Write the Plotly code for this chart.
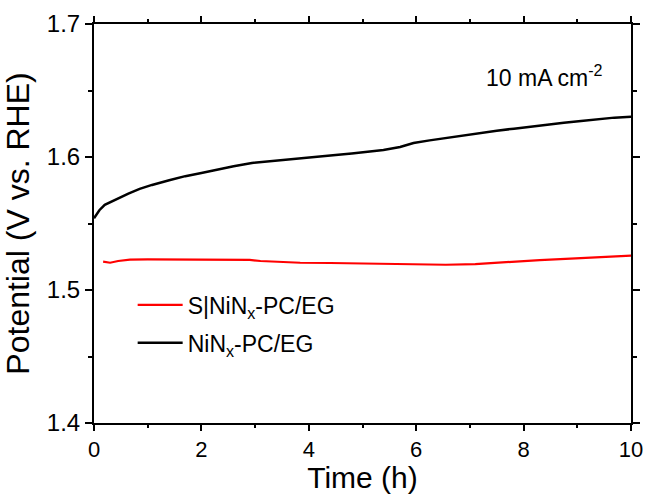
import plotly.graph_objects as go

# NiNx-PC/EG (black)
t_black = [0.0, 0.05, 0.1, 0.2, 0.3, 0.45, 0.64, 0.85, 1.08, 1.4, 1.7, 2.0, 2.31, 2.6, 2.94, 3.25, 3.56, 3.9, 4.18, 4.5, 4.8, 5.1, 5.39, 5.7, 5.95, 6.25, 6.58, 6.9, 7.2, 7.5, 7.82, 8.15, 8.45, 8.75, 9.07, 9.4, 9.69, 10.0]
v_black = [1.5540, 1.5575, 1.5600, 1.5640, 1.5660, 1.5685, 1.5725, 1.5760, 1.5790, 1.5825, 1.5856, 1.5880, 1.5907, 1.5930, 1.5955, 1.5968, 1.5980, 1.5995, 1.6007, 1.6015, 1.6027, 1.6038, 1.6052, 1.6075, 1.6105, 1.6125, 1.6145, 1.6163, 1.6183, 1.6198, 1.6213, 1.6230, 1.6246, 1.6258, 1.6270, 1.6285, 1.6296, 1.6303]

# S|NiNx-PC/EG (red)
t_red = [0.17, 0.3, 0.45, 0.67, 1.0, 1.5, 2.0, 2.5, 2.9, 3.1, 3.5, 3.84, 4.4, 4.96, 5.5, 6.0, 6.55, 7.1, 7.57, 8.0, 8.3, 8.97, 9.5, 10.0]
v_red = [1.5213, 1.5205, 1.5218, 1.5228, 1.5230, 1.5230, 1.5230, 1.5229, 1.5226, 1.5218, 1.5211, 1.5205, 1.5203, 1.5200, 1.5198, 1.5195, 1.5190, 1.5195, 1.5208, 1.5218, 1.5225, 1.5238, 1.5248, 1.5258]

x_ticks = [0, 2, 4, 6, 8, 10]
y_ticks = [1.4, 1.5, 1.6, 1.7]

FONT = "Liberation Sans, Arial, sans-serif"

fig = go.Figure()
fig.add_trace(go.Scatter(x=t_red, y=v_red, mode="lines", name="S|NiN<sub>x</sub>-PC/EG",
                         legendgroup="a", line=dict(color="#ff0000", width=2.2)))
fig.add_trace(go.Scatter(x=t_black, y=v_black, mode="lines", name="NiN<sub>x</sub>-PC/EG",
                         legendgroup="b", line=dict(color="#000000", width=2.5)))

axis_common = dict(showline=True, linecolor="#000000", linewidth=2, mirror="allticks",
                   ticks="outside", tickcolor="#000000", tickwidth=1.5, showgrid=False,
                   zeroline=False, automargin=False)

fig.update_xaxes(range=[0, 10], tickvals=x_ticks, ticklen=6,
                 tickfont=dict(family=FONT, size=22, color="#000000"),
                 minor=dict(dtick=1, ticks="outside", ticklen=3, tickcolor="#000000", tickwidth=1.5),
                 title=dict(text="Time (h)", font=dict(family=FONT, size=30, color="#000000")),
                 **axis_common)
fig.update_yaxes(range=[1.4, 1.7], tickvals=y_ticks, tickformat=".1f", ticklen=7,
                 tickfont=dict(family=FONT, size=24, color="#000000"),
                 minor=dict(dtick=0.05, ticks="outside", ticklen=4, tickcolor="#000000", tickwidth=1.5),
                 title=dict(text="Potential (V vs. RHE)", font=dict(family=FONT, size=32, color="#000000")),
                 **axis_common)

fig.add_annotation(x=9.52, y=1.661, xref="x", yref="y", text="10 mA cm<sup>-2</sup>",
                   showarrow=False, xanchor="right", yanchor="middle",
                   font=dict(family=FONT, size=23, color="#000000"))

fig.update_layout(
    width=647, height=494,
    margin=dict(l=94, r=16, t=24, b=71),
    paper_bgcolor="white", plot_bgcolor="white",
    showlegend=True,
    legend=dict(x=0.072, y=0.35, xanchor="left", yanchor="top",
                bgcolor="rgba(0,0,0,0)", font=dict(family=FONT, size=23, color="#000000"),
                itemwidth=45, traceorder="grouped", tracegroupgap=5),
)

fig.write_html("out.html")
